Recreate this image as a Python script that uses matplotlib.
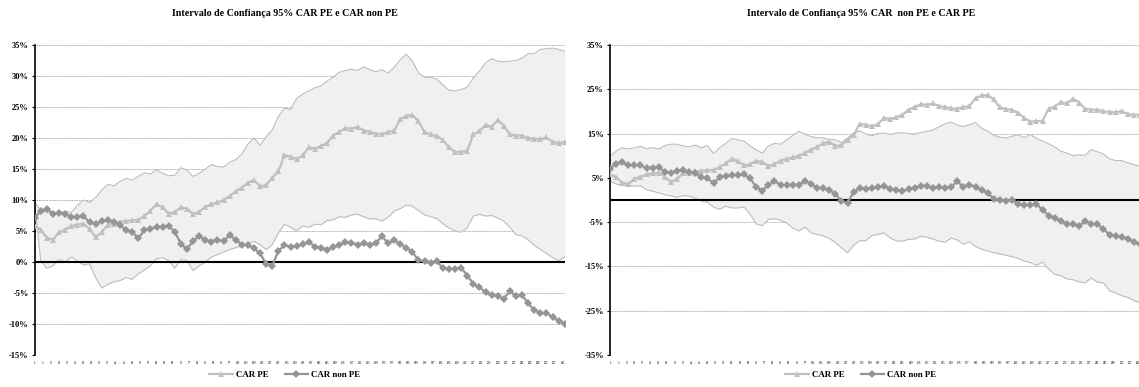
import numpy as np
import matplotlib
matplotlib.use('Agg')
import matplotlib.pyplot as plt
from matplotlib.ticker import FuncFormatter

plt.rcParams['font.family'] = ['Liberation Serif', 'DejaVu Serif']
plt.rcParams['font.weight'] = 'bold'

# event days, sampled every third day of the 261-day window
days = np.arange(1, 263, 3)

car_pe = [5.8, 5.2, 3.9, 3.6, 4.8, 5.2, 5.8, 6.0, 6.2, 5.3,
          4.0, 4.8, 6.0, 6.2, 6.5, 6.6, 6.7, 6.8, 7.4, 8.3,
          9.3, 8.8, 7.8, 8.1, 8.8, 8.6, 7.7, 8.1, 8.9, 9.3,
          9.6, 10.0, 10.6, 11.4, 12.0, 12.8, 13.2, 12.2, 12.4, 13.6,
          14.6, 17.2, 17.0, 16.6, 17.2, 18.5, 18.3, 18.7, 19.2, 20.4,
          21.0, 21.6, 21.5, 21.8, 21.2, 21.0, 20.7, 20.6, 21.0, 21.2,
          23.0, 23.6, 23.7, 22.7, 20.9, 20.6, 20.3, 19.7, 18.5, 17.7,
          17.8, 17.9, 20.6, 21.1, 22.1, 21.8, 22.9, 22.0, 20.6, 20.4,
          20.4, 20.0, 19.9, 19.8, 20.1, 19.4, 19.2, 19.3]

car_non_pe = [7.1, 8.2, 8.6, 7.8, 7.9, 7.8, 7.2, 7.3, 7.4, 6.4,
              6.1, 6.6, 6.7, 6.4, 6.0, 5.1, 4.9, 3.8, 5.1, 5.4,
              5.6, 5.7, 5.8, 4.9, 2.9, 2.1, 3.4, 4.2, 3.5, 3.3,
              3.5, 3.4, 4.3, 3.6, 2.8, 2.7, 2.2, 1.4, -0.3, -0.6,
              1.8, 2.7, 2.5, 2.6, 2.9, 3.2, 2.5, 2.3, 2.0, 2.4,
              2.7, 3.2, 3.1, 2.8, 3.0, 2.8, 3.0, 4.2, 3.0, 3.5,
              2.9, 2.3, 1.6, 0.3, 0.1, -0.2, 0.1, -1.0, -1.1, -1.1,
              -0.9, -2.2, -3.5, -4.1, -4.8, -5.4, -5.5, -5.9, -4.7, -5.5,
              -5.4, -6.6, -7.8, -8.2, -8.3, -8.8, -9.5, -10.0]

# 95% interval around CAR PE
pe_upper = [9.7, 8.3, 8.0, 8.1, 7.8, 8.2, 8.0, 9.1, 10.0, 9.6,
            10.4, 11.6, 12.5, 12.3, 13.0, 13.5, 13.2, 13.8, 14.4, 14.2,
            14.9, 14.3, 13.9, 14.0, 15.2, 14.8, 13.8, 14.3, 15.0, 15.7,
            15.4, 15.3, 16.1, 16.5, 17.4, 19.0, 20.0, 18.8, 20.2, 21.3,
            23.5, 24.8, 24.6, 26.4, 27.1, 27.6, 28.1, 28.4, 29.2, 29.8,
            30.6, 30.9, 31.1, 30.9, 31.5, 31.0, 30.7, 31.0, 30.5, 31.4,
            32.6, 33.5, 32.4, 30.5, 29.8, 29.8, 29.5, 28.6, 27.7, 27.6,
            27.8, 28.2, 29.7, 30.8, 32.1, 32.8, 32.4, 32.3, 32.4, 32.5,
            32.9, 33.6, 33.6, 34.3, 34.4, 34.5, 34.3, 34.0]

pe_lower = [9.5, 0.2, -1.0, -0.6, 0.4, 0.0, 0.8, 0.2, -0.5, -0.3,
            -2.5, -4.2, -3.6, -3.2, -3.0, -2.5, -2.8, -1.9, -1.3, -0.6,
            0.5, 0.7, 0.2, -1.0, 0.4, 0.2, -1.4, -0.6, 0.0, 0.8,
            1.2, 1.6, 2.0, 2.3, 2.6, 3.0, 3.3, 2.8, 2.0, 2.8,
            4.7, 6.1, 5.6, 5.0, 5.8, 5.6, 6.1, 6.0, 6.7, 6.8,
            7.3, 7.2, 7.6, 7.7, 7.3, 6.9, 7.0, 6.6, 7.2, 8.2,
            8.6, 9.2, 9.0, 8.3, 7.6, 7.3, 7.0, 6.2, 5.5, 5.0,
            4.8, 5.5, 7.4, 7.7, 7.4, 7.5, 7.1, 6.6, 5.6, 4.4,
            4.2, 3.6, 2.7, 2.0, 1.4, 0.7, 0.2, 0.8]

# 95% interval around CAR non PE
npe_upper = [9.9, 11.0, 11.8, 11.5, 11.8, 12.1, 11.6, 11.8, 11.5, 12.3,
             12.6, 12.6, 12.2, 12.0, 12.4, 11.8, 12.3, 10.5, 11.8, 12.8,
             13.9, 13.6, 13.3, 12.2, 11.3, 10.6, 12.2, 12.8, 12.6, 13.6,
             14.6, 15.5, 14.9, 14.3, 14.1, 14.0, 13.7, 13.6, 13.0, 14.0,
             15.2, 15.6, 14.9, 14.5, 15.0, 15.1, 14.8, 15.1, 15.2, 15.0,
             14.9, 15.2, 15.5, 15.8, 16.5, 17.2, 17.6, 16.9, 16.6, 17.0,
             17.5, 16.2, 15.6, 14.6, 14.2, 14.0, 14.4, 14.7, 14.1, 14.8,
             13.9, 13.3, 12.7, 12.0, 11.0, 10.6, 10.0, 10.2, 10.1, 11.4,
             10.9, 10.4, 9.3, 8.9, 8.9, 8.4, 8.0, 7.6]

npe_lower = [4.3, 3.6, 3.4, 3.3, 3.1, 3.2, 2.3, 2.0, 1.6, 1.2,
             0.9, 0.6, 1.0, 0.9, 0.4, -0.2, -0.5, -1.6, -2.1, -1.4,
             -1.8, -1.8, -1.6, -3.2, -5.4, -5.8, -4.4, -4.2, -4.6, -5.2,
             -6.3, -7.0, -6.1, -7.4, -7.8, -8.1, -8.7, -9.6, -10.8, -11.9,
             -10.2, -9.2, -9.2, -8.0, -7.8, -7.4, -8.6, -9.2, -9.3, -8.9,
             -8.8, -8.2, -8.4, -8.8, -9.3, -9.5, -8.6, -9.0, -10.0, -9.4,
             -10.5, -11.1, -11.5, -11.9, -12.2, -12.5, -12.8, -13.2, -13.8, -14.1,
             -14.8, -14.0, -15.6, -16.8, -17.1, -17.8, -18.0, -18.5, -18.7, -17.6,
             -18.6, -18.7, -20.5, -21.0, -21.6, -22.0, -22.7, -23.2]

titles = ['Intervalo de Confiança 95% CAR PE e CAR non PE',
          'Intervalo de Confiança 95% CAR  non PE e CAR PE']
legend_labels = ['CAR PE', 'CAR non PE']
xtick_days = np.arange(1, 262, 4)

PE_COLOR = '#c0c0c0'
NPE_COLOR = '#959595'
BAND_LINE = '#bdbdbd'
BAND_FILL = '#f0f0f0'


def draw_panel(ax, upper, lower, yticks):
    ax.fill_between(days, lower, upper, color=BAND_FILL, lw=0, zorder=1)
    ax.plot(days, upper, color=BAND_LINE, lw=0.8, zorder=2)
    ax.plot(days, lower, color=BAND_LINE, lw=0.8, zorder=2)
    ax.axhline(0, color='black', lw=1.5, zorder=3)
    h1, = ax.plot(days, car_pe, color=PE_COLOR, lw=1.6, marker='^',
                  markersize=4.6, markeredgewidth=0, zorder=4)
    h2, = ax.plot(days, car_non_pe, color=NPE_COLOR, lw=1.6, marker='D',
                  markersize=3.8, markeredgewidth=0, zorder=5)

    ax.set_xlim(1, 262)
    ax.set_ylim(yticks[0], yticks[-1])
    ax.set_yticks(yticks)
    ax.yaxis.set_major_formatter(FuncFormatter(lambda v, p: '{:.0f}%'.format(v)))
    ax.set_xticks(xtick_days)
    ax.set_xticklabels([str(d) for d in xtick_days], fontsize=2.2,
                       color='#404040')
    ax.tick_params(axis='x', length=0, pad=4)
    ax.tick_params(axis='y', length=2.5, width=0.8, labelsize=6, pad=2)
    ax.grid(axis='y', color='#8c8c8c', linestyle=(0, (1, 1)), lw=0.6, zorder=0)
    ax.set_axisbelow(True)
    for side in ['top', 'right', 'bottom']:
        ax.spines[side].set_visible(False)
    ax.spines['left'].set_linewidth(1.2)
    return h1, h2


fig = plt.figure(figsize=(11.39, 3.87), dpi=100)
W, H = 1139.0, 387.0
ax_left = fig.add_axes([34.7 / W, 1 - 355 / H, 530 / W, 310 / H])
ax_right = fig.add_axes([610 / W, 1 - 355 / H, 530 / W, 310 / H])

handles = draw_panel(ax_left, pe_upper, pe_lower, np.arange(-15, 36, 5))
draw_panel(ax_right, npe_upper, npe_lower, np.arange(-35, 36, 10))

for title, cx in zip(titles, [285, 861]):
    fig.text(cx / W, 1 - 14 / H, title, ha='center', va='center',
             fontsize=7.2, fontweight='bold')
    fig.legend(handles, legend_labels, loc='center',
               bbox_to_anchor=(cx / W, 1 - 375 / H), ncol=2, frameon=False,
               fontsize=6.4, handlelength=2.6, columnspacing=1.8,
               handletextpad=0.4)

fig.savefig('out.png', dpi=100)
